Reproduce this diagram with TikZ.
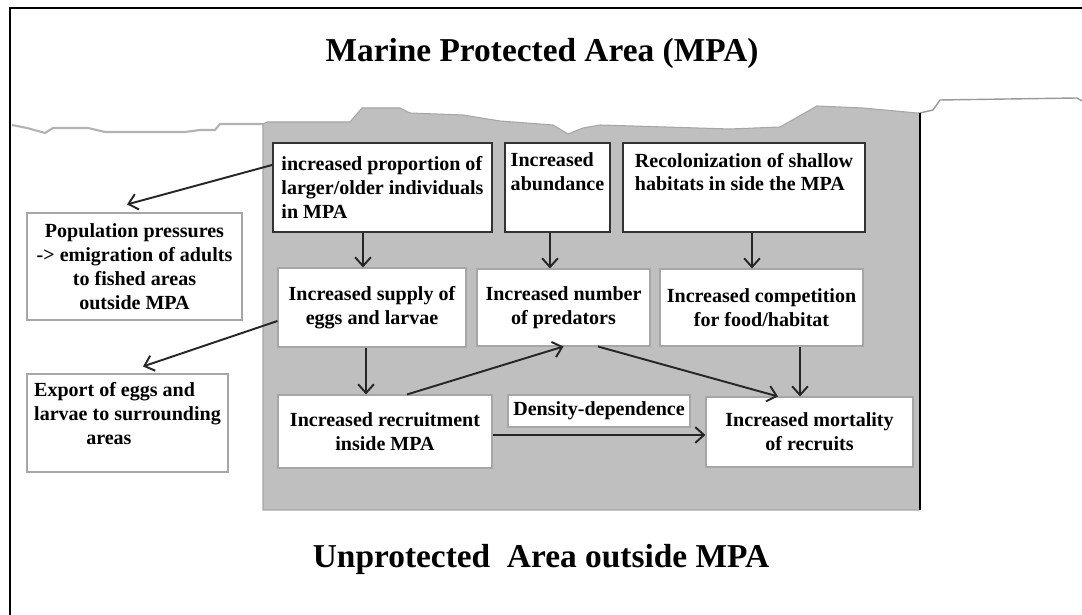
\documentclass[tikz,border=0pt]{standalone}
\usepackage{fontspec}
\setmainfont{Liberation Serif}
\usetikzlibrary{arrows.meta, calc}

\begin{document}
\begin{tikzpicture}[
  every node/.style={font=\fontsize{11.4}{13.6}\selectfont\bfseries},
  effectbox/.style={draw=black!80, line width=1.1pt, fill=white, align=left, inner sep=0pt},
  resultbox/.style={draw=gray!70, line width=0.6pt, fill=white, align=center, inner sep=0pt},
  arr/.style={-{Straight Barb[length=5pt,width=9pt]}, line width=1.1pt, draw=black!85}
]

  \useasboundingbox (0,0) rectangle (21.64,12.30);

  % Frame
  \draw[line width=1.2pt] (0.20,0) -- (0.20,12.14) -- (21.64,12.14);

  % Shoreline outside the reserve
  \draw[gray!60, line width=1.2pt] (0.24,9.80) -- (0.54,9.74) -- (0.90,9.64) -- (1.06,9.74)
    -- (1.76,9.74) -- (2.10,9.66) -- (3.70,9.66) -- (4.00,9.70) -- (4.30,9.70)
    -- (4.40,9.82) -- (5.26,9.82);
  \draw[gray!80, line width=0.8pt] (18.40,10.04) -- (18.66,10.10) -- (18.80,10.30)
    -- (21.54,10.34) -- (21.64,10.28);

  % Marine Protected Area
  \draw[fill=gray!50, draw=gray!70, line width=0.6pt] (5.26,9.82) -- (5.34,9.86) -- (7.00,9.86)
    -- (7.24,10.14) -- (8.00,10.14) -- (8.20,10.04) -- (9.26,10.00) -- (10.00,9.88)
    -- (11.06,9.80) -- (11.36,9.62) -- (11.66,9.74) -- (12.00,9.80) -- (14.60,9.72)
    -- (15.60,9.76) -- (16.34,10.18) -- (17.26,10.14) -- (18.34,10.04) -- (18.40,10.04)
    -- (18.40,2.10) -- (5.26,2.10) -- cycle;
  \draw[line width=1.1pt] (18.40,10.04) -- (18.40,2.10);

  \node[font=\fontsize{19}{22}\selectfont\bfseries] (mpa) at (10.84,11.24) {Marine Protected Area (MPA)};
  \node[font=\fontsize{19}{22}\selectfont\bfseries] (outside) at (10.82,1.12) {Unprotected\ \ Area outside MPA};

  % Direct effects
  \node[effectbox, minimum width=4.38cm, minimum height=1.78cm] (prop) at (7.65,8.55) {increased proportion of\\larger/older individuals\\in MPA};
  \node[effectbox, minimum width=2.10cm, minimum height=1.78cm] (abund) at (11.15,8.55) {Increased\\abundance\\\strut};
  \node[effectbox, minimum width=4.84cm, minimum height=1.78cm] (recol) at (14.88,8.55) {Recolonization of shallow\\habitats in side the MPA\\\strut};

  % Indirect effects
  \node[resultbox, minimum width=3.76cm, minimum height=1.58cm] (supply) at (7.44,6.15) {Increased supply of\\eggs and larvae};
  \node[resultbox, minimum width=3.46cm, minimum height=1.54cm] (pred) at (11.27,6.15) {Increased number\\of predators};
  \node[resultbox, minimum width=4.06cm, minimum height=1.54cm] (compet) at (15.23,6.15) {Increased competition\\for food/habitat};

  \node[resultbox, minimum width=4.28cm, minimum height=1.46cm] (recruit) at (7.70,3.67) {Increased recruitment\\inside MPA};
  \node[resultbox, minimum width=3.64cm, minimum height=0.64cm] (dens) at (11.98,4.08) {Density-dependence};
  \node[resultbox, minimum width=4.14cm, minimum height=1.40cm] (mort) at (16.19,3.66) {Increased mortality\\of recruits};

  % Spillover to fished areas
  \node[resultbox, minimum width=4.30cm, minimum height=2.14cm] (emig) at (2.69,6.97) {Population pressures\\-> emigration of adults\\to fished areas\\outside MPA};
  \node[resultbox, align=left, minimum width=4.02cm, minimum height=1.96cm] (export) at (2.55,3.84) {Export of eggs and\\larvae to surrounding\\\hspace*{2.6em}areas\\[-0.1cm]};

  % Links
  \draw[arr] ([xshift=-0.39cm]prop.south) -- ([xshift=-0.39cm]prop.south |- supply.north);
  \draw[arr] ([xshift=-0.15cm]abund.south) -- ([xshift=-0.15cm]abund.south |- pred.north);
  \draw[arr] ([xshift=0.16cm]recol.south) -- ([xshift=0.16cm]recol.south |- compet.north);
  \draw[arr] ([xshift=-0.12cm]supply.south) -- ([xshift=-0.12cm]supply.south |- recruit.north);
  \draw[arr] ([xshift=0.44cm]recruit.north) -- (pred.south);
  \draw[arr] ([xshift=0.69cm]pred.south) -- ([xshift=-0.63cm]mort.north);
  \draw[arr] ([xshift=0.77cm]compet.south) -- ([xshift=0.77cm]compet.south |- mort.north);
  \draw[arr] ([yshift=-0.07cm]recruit.east) -- ([yshift=-0.07cm]recruit.east -| mort.west);
  \draw[arr] ([yshift=0.45cm]prop.west) -- ([xshift=-0.15cm,yshift=0.16cm]emig.north);
  \draw[arr] ([yshift=-0.27cm]supply.west) -- ([xshift=0.31cm,yshift=0.14cm]export.north);

\end{tikzpicture}
\end{document}
